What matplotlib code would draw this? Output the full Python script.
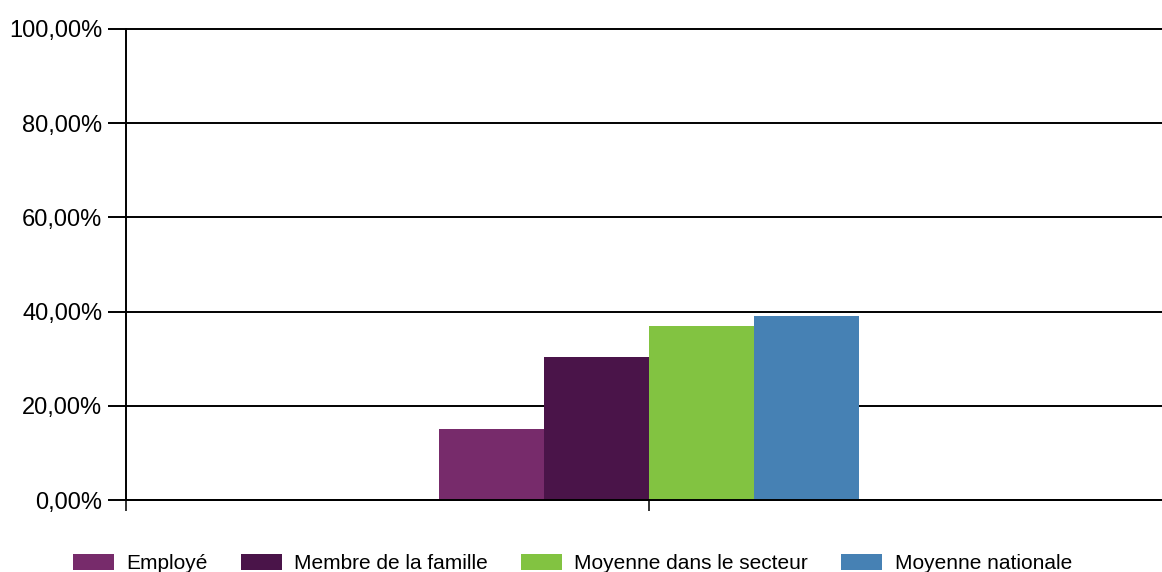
import matplotlib
matplotlib.use("Agg")
import matplotlib.pyplot as plt
from matplotlib.ticker import FuncFormatter

# data
series = ["Employé", "Membre de la famille", "Moyenne dans le secteur", "Moyenne nationale"]
values = [15.0, 30.3, 36.9, 39.1]
colors = ["#772b6b", "#4a1449", "#82c341", "#4681b4"]
yticks = [0, 20, 40, 60, 80, 100]

plt.rcParams['font.family'] = ['Liberation Sans', 'DejaVu Sans']

fig = plt.figure(figsize=(11.62, 5.72), dpi=100)
ax = fig.add_axes([126 / 1162, 1 - 500 / 572, 1 - 126 / 1162, 471 / 572])

offsets = [-1.5, -0.5, 0.5, 1.5]
for off, val, col, name in zip(offsets, values, colors, series):
    ax.bar(off, val, width=1.0, color=col, label=name, zorder=3)

ax.set_ylim(0, 100)
ax.set_xlim(-523 / 105, 513 / 105)
ax.set_yticks(yticks)
ax.yaxis.set_major_formatter(FuncFormatter(lambda v, p: f"{v:.2f}".replace(".", ",") + "%"))
ax.grid(axis='y', color='black', linewidth=1.4, zorder=1)
for gl in ax.get_ygridlines():
    gl.set_clip_on(False)
ax.tick_params(axis='y', length=13, width=1.4, labelsize=17, pad=4, color='black')
ax.set_xticks([-523 / 105, 0])
ax.set_xticklabels([])
ax.tick_params(axis='x', length=8, width=1.4, color='#333333')
for s in ['top', 'right']:
    ax.spines[s].set_visible(False)
ax.spines['left'].set_linewidth(1.4)
ax.spines['bottom'].set_linewidth(1.4)
ax.spines['bottom'].set_zorder(4)

fig.legend(loc='lower center', bbox_to_anchor=(0.4927, -0.035), ncol=4, frameon=False,
           fontsize=15, handlelength=1.95, handleheight=0.75, columnspacing=1.6,
           handletextpad=0.6)

fig.savefig("out.png", dpi=100)
